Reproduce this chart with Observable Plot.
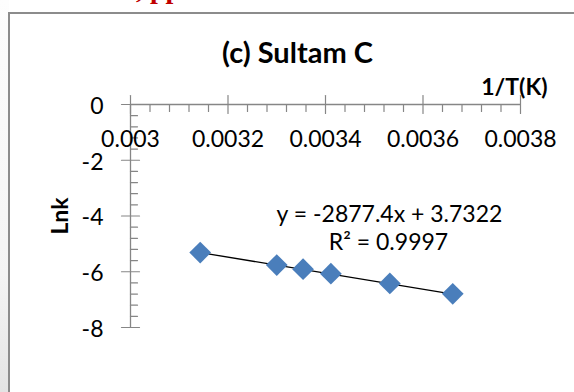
<!DOCTYPE html>
<html>
<head>
<meta charset="utf-8">
<script src="https://cdn.jsdelivr.net/npm/d3@7"></script>
<script src="https://cdn.jsdelivr.net/npm/@observablehq/plot@0.6"></script>
<style>
  html, body { margin: 0; padding: 0; background: #fff; }
  #wrap { position: relative; width: 574px; height: 392px; overflow: hidden; }
  #edge { position: absolute; left: 0; top: 0; width: 9px; height: 392px;
          background: linear-gradient(to bottom, #fdfdfd 0%, #f4f4f4 70%, #e4e4e4 100%); }
  #frame { position: absolute; left: 8px; top: 12px; width: 620px; height: 420px;
           border: 2px solid #8c8c8c; box-sizing: border-box; background: #fff; }
  #clip { position: absolute; left: 136px; top: -25px; font: bold 28px "Liberation Serif", serif;
          color: #c00000; line-height: 1; white-space: pre; }
  #chart { position: absolute; left: 0; top: 0; }
</style>
</head>
<body>
<div id="wrap">
  <div id="edge"></div>
  <div id="frame"></div>
  <div id="clip">, pp</div>
  <div id="chart"></div>
</div>
<script>
// Arrhenius plot data: 1/T (K^-1) against ln k
const invT = [0.003143, 0.003300, 0.003354, 0.003411, 0.003532, 0.003661];
const lnk = [-5.31, -5.76, -5.91, -6.07, -6.42, -6.79];

// Linear trendline coefficients, as printed on the chart
const slope = -2877.4;
const intercept = 3.7322;
const equationLabel = "y = -2877.4x + 3.7322";
const r2Label = "R² = 0.9997";

// Axes
const xMajor = [0.003, 0.0032, 0.0034, 0.0036, 0.0038];
const xTickLabels = ["0.003", "0.0032", "0.0034", "0.0036", "0.0038"];
const yMajor = [0, -2, -4, -6, -8];
const yTickLabels = ["0", "-2", "-4", "-6", "-8"];
const title = "(c) Sultam C";
const xTitle = "1/T(K)";
const yTitle = "Lnk";

const points = invT.map((x, i) => ({x, y: lnk[i]}));
const [xMin, xMax] = d3.extent(invT);
const trend = [xMin, xMax].map(x => ({x, y: slope * x + intercept}));

const xMinor = d3.range(21).filter(i => i % 5).map(i => 0.003 + i * 0.00004);
const yMinor = d3.range(21).filter(i => i % 5).map(i => -i * 0.4);

// Straight tick segment drawn by the vector mark
const tickShape = {draw(context, length) { context.moveTo(0, 0); context.lineTo(0, -length); }};
const axisGray = "#868686";
const font = "Lato";

const chart = Plot.plot({
  width: 574,
  height: 392,
  marginLeft: 130,
  marginRight: 54,
  marginTop: 104,
  marginBottom: 65,
  style: {fontFamily: font, background: "transparent", overflow: "visible", color: "#000"},
  x: {domain: [0.003, 0.0038], axis: null},
  y: {domain: [-8, 0], axis: null},
  marks: [
    // axis lines
    Plot.ruleY([0], {x1: 0.003, x2: 0.0038, stroke: axisGray, strokeWidth: 1.3}),
    Plot.ruleX([0.003], {y1: -8, y2: 0, stroke: axisGray, strokeWidth: 1.3}),
    // x ticks
    Plot.vector(xMajor, {x: d => d, y: 0, length: 18, rotate: 0, anchor: "middle", shape: tickShape, stroke: axisGray, strokeWidth: 1.2}),
    Plot.vector(xMinor, {x: d => d, y: 0, length: 7, rotate: 180, anchor: "start", shape: tickShape, stroke: axisGray, strokeWidth: 1.2}),
    // y ticks
    Plot.vector(yMajor, {x: 0.003, y: d => d, length: 18, rotate: 90, anchor: "middle", shape: tickShape, stroke: axisGray, strokeWidth: 1.2}),
    Plot.vector(yMinor, {x: 0.003, y: d => d, length: 7, rotate: 90, anchor: "start", shape: tickShape, stroke: axisGray, strokeWidth: 1.2}),
    // tick labels
    Plot.text(xMajor, {x: d => d, y: 0, text: (d, i) => xTickLabels[i], dy: 35, fontSize: 23, fill: "#000"}),
    Plot.text(yMajor, {x: 0.003, y: d => d, text: (d, i) => yTickLabels[i], dx: -27, dy: 2, textAnchor: "end", fontSize: 23, fill: "#000"}),
    // titles
    Plot.text([title], {text: d => d, frameAnchor: "top", textAnchor: "middle", lineAnchor: "middle", dx: -28, dy: -51, fontSize: 29, fontWeight: "bold", fill: "#000"}),
    Plot.text([xTitle], {text: d => d, frameAnchor: "top-right", textAnchor: "end", lineAnchor: "middle", dx: 27, dy: -17, fontSize: 23, fontWeight: "bold", fill: "#000"}),
    Plot.text([yTitle], {text: d => d, frameAnchor: "left", textAnchor: "middle", lineAnchor: "middle", rotate: -90, dx: -70, dy: 0, fontSize: 23, fontWeight: "bold", fill: "#000"}),
    // trendline and its labels
    Plot.line(trend, {x: "x", y: "y", stroke: "#000", strokeWidth: 1.3}),
    Plot.text([equationLabel], {text: d => d, frameAnchor: "top-left", textAnchor: "middle", lineAnchor: "middle", dx: 259, dy: 110, fontSize: 23, fill: "#000"}),
    Plot.text([r2Label], {text: d => d, frameAnchor: "top-left", textAnchor: "middle", lineAnchor: "middle", dx: 258, dy: 138, fontSize: 23, fill: "#000"}),
    // measured points
    Plot.dot(points, {x: "x", y: "y", symbol: "diamond2", r: 9.8, fill: "#4a7ebb", stroke: "none"})
  ]
});
document.getElementById("chart").append(chart);
</script>
</body>
</html>
